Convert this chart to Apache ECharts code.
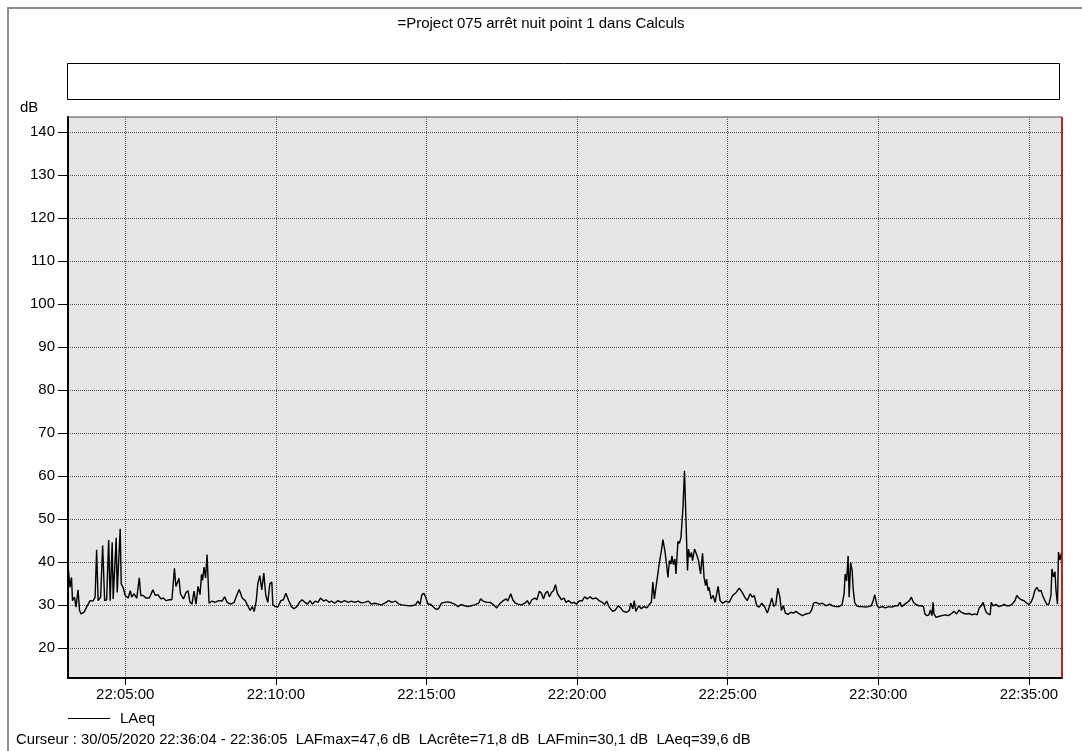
<!DOCTYPE html>
<html><head><meta charset="utf-8">
<script src="https://cdn.jsdelivr.net/npm/echarts@6/dist/echarts.min.js"></script>
<style>html,body{margin:0;padding:0;background:#fff}#chart{width:1082px;height:751px}</style>
</head><body><div id="chart"></div>
<script>
const titleText = '=Project 075 arrêt nuit point 1 dans Calculs';
const seriesName = 'LAeq';
const yUnit = 'dB';
const startTime = '22:03:06';
const endTime = '22:36:06';
const cursorTime = '22:36:05';
const xTickLabels = ['22:05:00','22:10:00','22:15:00','22:20:00','22:25:00','22:30:00','22:35:00'];
const yTickValues = [20,30,40,50,60,70,80,90,100,110,120,130,140];
const yMin = 13, yMax = 143.5;
const cursorText = 'Curseur : 30/05/2020 22:36:04 - 22:36:05  LAFmax=47,6 dB  LAcrête=71,8 dB  LAFmin=30,1 dB  LAeq=39,6 dB';

// [seconds after startTime, LAeq dB]
const samplesA = [[0,39.1],[4,34.1],[7,36.4],[9,31.0],[13,31.8],[16,29.5],[20,33.5],[23,28.7],[26,27.9],[32,28.3],[37,29.5],[44,31.0],[50,30.9],[54,31.8],[57,42.8],[60,31.0],[65,31.8],[69,43.8],[73,31.0],[77,31.2],[81,45.1],[84,31.0],[88,44.6],[90,31.4],[96,45.6],[98,32.9],[104,47.7],[106,34.9],[110,34.0],[114,32.2],[120,31.6],[124,33.3],[127,31.8],[131,32.6],[137,31.6],[142,36.3],[145,32.2],[150,32.2],[155,31.6],[162,31.6],[169,33.5],[174,32.2],[179,32.4],[185,31.4],[190,31.6],[195,31.0],[202,31.2],[207,31.2],[212,38.5],[215,34.3],[221,36.2],[224,32.6],[230,31.4],[235,32.9],[239,33.3],[243,30.6],[247,30.2],[251,33.2],[255,30.2],[259,34.3],[263,32.4],[266,37.1],[268,35.7],[271,38.8],[274,36.3],[277,41.7],[281,30.4],[287,30.9],[293,30.6],[300,31.0],[307,30.9],[312,31.9],[317,30.6],[324,30.2],[331,30.6],[336,32.2],[341,33.6],[347,31.6],[353,31.0],[359,29.6],[363,28.7],[367,29.6],[371,28.5],[375,31.0],[378,34.9],[382,36.8],[386,33.5],[390,37.4],[394,32.2],[398,30.6],[402,34.9],[406,35.3],[408,30.1],[413,29.6],[418,29.5],[424,31.0],[429,31.2],[434,32.7],[440,30.9],[445,29.6],[450,29.1],[456,29.6],[461,30.6],[466,31.2],[472,30.6],[477,30.2],[482,31.0],[487,30.2],[493,30.9],[498,30.6],[503,31.6],[509,30.9],[514,31.2],[520,30.6]];
const samplesB = [[525,30.9],[531,30.4],[538,31.0],[544,30.6],[551,31.0],[558,30.6],[564,30.9],[571,30.6],[578,30.9],[584,30.5],[591,30.6],[598,30.9],[604,30.2],[611,30.4],[618,30.2],[624,30.0],[631,30.4],[639,31.0],[645,30.6],[652,30.9],[659,30.2],[665,30.0],[672,29.9],[679,29.8],[685,29.8],[692,30.0],[697,30.9],[701,30.1],[705,32.4],[709,32.7],[713,31.6],[717,30.2],[723,30.1],[728,29.5],[733,29.0],[738,29.1],[744,30.4],[750,30.6],[757,30.7],[764,30.5],[770,30.2],[777,29.6],[783,30.1],[790,29.8],[797,29.6],[803,29.8],[810,30.0],[818,30.4],[822,31.4],[827,30.9],[834,30.6],[841,30.6],[847,30.1],[854,29.3],[861,30.4],[867,31.0],[873,31.4],[876,30.9],[882,32.6],[886,31.2],[891,30.4],[896,30.2],[903,30.0],[910,30.4],[915,31.0],[919,30.1],[924,31.2],[930,31.6],[934,31.2],[939,33.2],[943,32.7],[947,31.4],[951,32.7],[955,33.2],[959,31.9],[963,32.9],[967,33.3],[971,34.7],[975,32.6],[979,31.9],[983,31.2],[988,31.6],[992,30.6],[997,31.0],[1003,30.4],[1008,30.6],[1013,30.2],[1019,31.0],[1024,30.9],[1029,31.9],[1034,31.4],[1040,31.9],[1045,31.4]];
const samplesC = [[1052,31.6],[1058,31.0],[1064,30.6],[1069,30.1],[1073,30.9],[1078,29.5],[1085,28.5],[1090,28.8],[1096,29.8],[1101,29.3],[1106,28.5],[1113,28.3],[1118,28.7],[1121,30.4],[1125,29.1],[1128,31.0],[1131,28.5],[1137,29.8],[1142,29.1],[1147,29.6],[1153,29.3],[1158,30.1],[1162,30.6],[1165,35.3],[1168,31.4],[1171,31.8],[1174,36.4],[1178,39.9],[1182,42.6],[1185,45.2],[1189,42.6],[1193,38.7],[1195,36.4],[1198,40.3],[1201,39.5],[1203,41.4],[1206,39.4],[1209,40.7],[1211,37.2],[1215,44.8],[1218,44.3],[1221,45.7],[1225,52.7],[1228,61.2],[1231,49.6],[1234,38.0],[1236,43.0],[1239,41.1],[1242,42.2],[1244,40.3],[1248,43.0],[1252,41.8],[1256,40.3],[1260,37.2],[1264,42.0],[1267,36.4],[1270,34.5],[1272,36.0],[1275,33.3],[1277,34.1],[1281,31.4],[1285,32.2],[1289,30.6],[1295,34.3],[1299,31.0],[1304,30.4],[1311,30.9],[1317,30.6],[1324,32.2],[1331,32.9],[1337,33.9],[1343,32.9],[1348,31.8],[1353,31.0],[1359,32.6],[1363,31.8],[1367,32.2],[1372,29.8],[1377,29.5],[1382,30.4],[1388,29.5],[1393,28.1],[1397,29.5],[1402,31.6],[1406,29.6],[1410,30.2],[1414,33.9],[1418,31.8],[1421,28.7],[1425,29.8],[1429,28.1],[1434,27.8],[1440,28.3],[1445,28.1],[1450,28.5],[1457,27.9],[1463,27.5],[1470,27.9],[1477,28.1],[1481,28.7],[1485,30.4],[1490,30.6],[1497,30.2],[1503,30.4],[1510,29.8],[1517,30.2],[1523,29.8],[1530,29.6],[1536,29.6],[1542,30.1],[1546,32.6],[1548,37.2],[1551,35.6],[1554,41.4],[1556,31.8],[1559,39.9],[1562,38.0],[1564,33.7],[1567,30.6],[1571,29.8],[1576,29.6]];
const samplesD = [[1582,29.6],[1588,29.5],[1595,29.6],[1600,29.8],[1604,31.0],[1607,32.4],[1611,30.1],[1615,29.3],[1622,29.6],[1628,29.3],[1635,29.6],[1641,29.5],[1648,29.8],[1653,29.8],[1657,30.6],[1661,29.6],[1667,30.2],[1672,30.6],[1676,31.0],[1680,31.8],[1684,30.6],[1689,30.1],[1695,29.8],[1700,29.8],[1704,29.6],[1707,27.9],[1711,27.5],[1715,27.7],[1718,28.8],[1721,27.5],[1723,30.6],[1725,27.9],[1729,27.1],[1734,27.3],[1741,27.5],[1748,27.7],[1754,27.5],[1760,28.0],[1765,28.5],[1770,27.9],[1775,28.8],[1779,28.3],[1785,28.0],[1790,27.9],[1795,28.0],[1801,27.7],[1806,27.9],[1811,27.7],[1815,29.3],[1819,29.8],[1823,30.6],[1826,29.3],[1829,28.3],[1833,27.9],[1837,27.7],[1839,30.6],[1843,29.8],[1849,30.1],[1854,29.6],[1859,29.8],[1865,30.1],[1870,29.8],[1875,29.8],[1880,30.1],[1886,30.9],[1890,32.2],[1894,31.6],[1899,31.2],[1904,31.0],[1910,30.4],[1914,30.1],[1918,30.6],[1922,31.6],[1926,33.4],[1930,34.1],[1934,33.2],[1938,33.4],[1942,32.0],[1946,31.0],[1950,30.1],[1954,30.2],[1958,32.2],[1960,38.4],[1963,36.5],[1966,37.7],[1968,33.4],[1971,30.2],[1973,42.3],[1976,40.4],[1979,42.1]];

function toSec(t){const p=t.split(':').map(Number);return p[0]*3600+p[1]*60+p[2];}
function pad(n){return (n<10?'0':'')+n;}
function fmtSec(s){s=Math.round(s);return pad(Math.floor(s/3600))+':'+pad(Math.floor(s/60)%60)+':'+pad(s%60);}

const t0 = toSec(startTime);
const lineData = samplesA.concat(samplesB, samplesC, samplesD).map(p => [t0 + p[0], p[1]]);
const xTicks = xTickLabels.map(toSec);

const FONT = '"Liberation Sans", Arial, sans-serif';
const chart = echarts.init(document.getElementById('chart'), null, {renderer:'canvas'});
chart.setOption({
  animation: false,
  backgroundColor: '#ffffff',
  textStyle: {fontFamily: FONT},
  title: {
    text: titleText, left: 'center', top: 11,
    textStyle: {fontFamily: FONT, fontSize: 15, fontWeight: 'normal', color: '#000'}
  },
  legend: {
    data: [seriesName], left: 63, top: 706, icon: 'rect', itemWidth: 42, itemHeight: 1,
    textStyle: {fontFamily: FONT, fontSize: 15, color: '#000', padding: [0,0,0,5]},
    itemStyle: {color: '#000'}
  },
  grid: {
    left: 68, top: 117, width: 994, height: 561,
    show: true, backgroundColor: '#e6e6e6', borderColor: '#444', borderWidth: 1
  },
  xAxis: {
    type: 'value', min: toSec(startTime), max: toSec(endTime),
    axisLine: {show: true, onZero: false, lineStyle: {color: '#000', width: 2}},
    axisTick: {show: true, customValues: xTicks, length: 7, lineStyle: {color: '#000', width: 1}},
    axisLabel: {customValues: xTicks, formatter: v => fmtSec(v), margin: 9, fontFamily: FONT, fontSize: 15, color: '#000'},
    splitLine: {show: true, lineStyle: {color: '#555', type: 'dotted', width: 1}}
  },
  yAxis: {
    type: 'value', min: yMin, max: yMax,
    axisLine: {show: true, lineStyle: {color: '#000', width: 2}},
    axisTick: {show: true, customValues: yTickValues, length: 10, lineStyle: {color: '#000', width: 1}},
    axisLabel: {customValues: yTickValues, margin: 13, fontFamily: FONT, fontSize: 15, color: '#000'},
    splitLine: {show: true, lineStyle: {color: '#555', type: 'dotted', width: 1}}
  },
  series: [{
    name: seriesName, type: 'line', data: lineData, showSymbol: false, symbol: 'none',
    lineStyle: {color: '#000', width: 1.4}, itemStyle: {color: '#000'},
    markLine: {
      silent: true, symbol: ['none','none'], label: {show: false},
      lineStyle: {color: '#c00000', type: 'solid', width: 1.5},
      data: [{xAxis: toSec(cursorTime)}]
    }
  }],
  graphic: [
    {type: 'line', shape: {x1: 7, y1: 8, x2: 1082, y2: 8}, style: {stroke: '#8c8c8c', lineWidth: 2}, silent: true},
    {type: 'line', shape: {x1: 8, y1: 8, x2: 8, y2: 751}, style: {stroke: '#8c8c8c', lineWidth: 2}, silent: true},
    {type: 'rect', shape: {x: 67.5, y: 63.5, width: 992, height: 36}, style: {fill: '#fff', stroke: '#000', lineWidth: 1}, silent: true},
    {type: 'text', left: 20, top: 100, style: {text: yUnit, font: '15px ' + FONT, fill: '#000'}, silent: true},
    {type: 'text', left: 16, top: 732, style: {text: cursorText, font: '14.8px ' + FONT, fill: '#000'}, silent: true}
  ]
});
</script></body></html>
